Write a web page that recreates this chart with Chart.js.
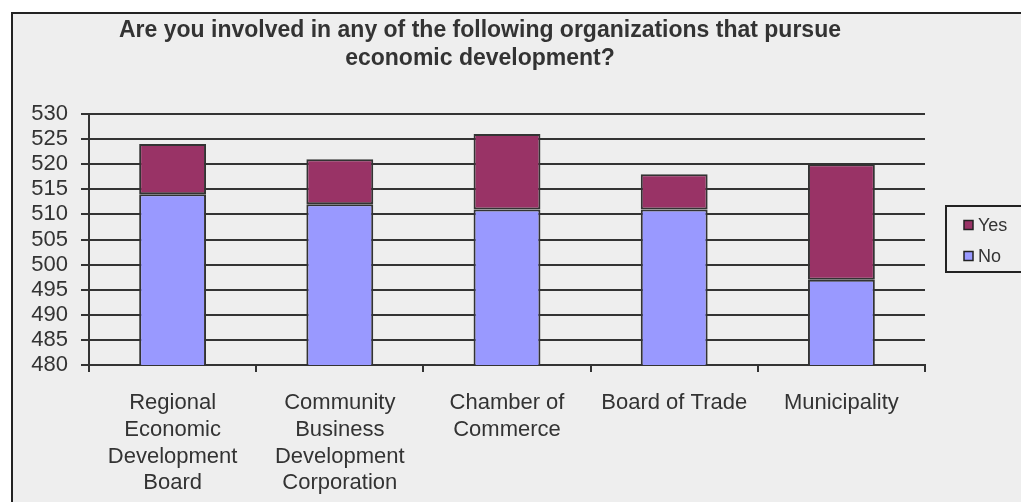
<!DOCTYPE html>
<html>
<head>
<meta charset="utf-8">
<script src="https://cdn.jsdelivr.net/npm/chart.js@4"></script>
<style>
  html, body { margin: 0; padding: 0; background: #ffffff; }
  #wrap { width: 1021px; height: 502px; }
</style>
</head>
<body>
<div id="wrap"><canvas id="orgChart" width="1021" height="502"></canvas></div>
<script>
// survey answers, stacked No + Yes
const categories = [
  ["Regional", "Economic", "Development", "Board"],
  ["Community", "Business", "Development", "Corporation"],
  ["Chamber of", "Commerce"],
  ["Board of Trade"],
  ["Municipality"]
];
const noValues = [514, 512, 511, 511, 497];
const yesValues = [10, 9, 15, 7, 23];
const titleLines = [
  "Are you involved in any of the following organizations that pursue",
  "economic development?"
];

const FONT = "'Liberation Sans', Arial, sans-serif";
const INK = "#333333";

// panel background + frame, title and the boxed legend
const panelPlugin = {
  id: "panel",
  beforeDraw(chart) {
    const ctx = chart.ctx;
    ctx.save();
    ctx.fillStyle = "#ffffff";
    ctx.fillRect(0, 0, chart.width, chart.height);
    ctx.fillStyle = "#eeeeee";
    ctx.fillRect(12, 13, chart.width, chart.height);
    ctx.strokeStyle = "#222222";
    ctx.lineWidth = 2;
    ctx.beginPath();
    ctx.moveTo(12, chart.height + 2);
    ctx.lineTo(12, 13);
    ctx.lineTo(chart.width + 2, 13);
    ctx.stroke();

    ctx.fillStyle = INK;
    ctx.font = "bold 23px " + FONT;
    ctx.textAlign = "center";
    ctx.textBaseline = "alphabetic";
    titleLines.forEach((line, i) => ctx.fillText(line, 480, 37 + i * 28));
    ctx.restore();
  },
  afterDraw(chart) {
    const ctx = chart.ctx;
    ctx.save();
    ctx.strokeStyle = "#222222";
    ctx.lineWidth = 2;
    ctx.strokeRect(946, 206, 100, 66);
    const items = chart.data.datasets.slice().reverse();
    ctx.font = "18px " + FONT;
    ctx.textAlign = "left";
    ctx.textBaseline = "middle";
    items.forEach((ds, i) => {
      const y = 225 + i * 31;
      ctx.fillStyle = ds.backgroundColor;
      ctx.fillRect(964, y - 4.5, 9, 9);
      ctx.lineWidth = 1.5;
      ctx.strokeStyle = "#222222";
      ctx.strokeRect(964, y - 4.5, 9, 9);
      ctx.fillStyle = INK;
      ctx.fillText(ds.label, 978, y + 1);
    });
    ctx.restore();
  }
};

new Chart(document.getElementById("orgChart"), {
  type: "bar",
  data: {
    labels: categories,
    datasets: [{
      label: "No",
      data: noValues,
      backgroundColor: "#9999ff",
      borderColor: INK,
      borderWidth: 2,
      borderSkipped: false
    }, {
      label: "Yes",
      data: yesValues,
      backgroundColor: "#993366",
      borderColor: INK,
      borderWidth: 2,
      borderSkipped: false
    }]
  },
  options: {
    responsive: false,
    animation: false,
    devicePixelRatio: 1,
    layout: { padding: { left: 12, top: 114, right: 96, bottom: 0 } },
    datasets: { bar: { categoryPercentage: 1, barPercentage: 0.4 } },
    plugins: {
      legend: { display: false },
      title: { display: false },
      tooltip: { enabled: false }
    },
    scales: {
      x: {
        stacked: true,
        afterFit: s => { s.height = 137; },
        grid: { offset: true, drawOnChartArea: false, tickLength: 7, color: INK, lineWidth: 2 },
        border: { color: INK, width: 2 },
        ticks: {
          color: INK,
          padding: 18,
          maxRotation: 0,
          autoSkip: false,
          font: { family: FONT, size: 22, lineHeight: 1.21 }
        }
      },
      y: {
        stacked: true,
        min: 480,
        max: 530,
        afterFit: s => { s.width = 77; },
        grid: { color: INK, lineWidth: 2, tickLength: 8 },
        border: { color: INK, width: 2 },
        ticks: {
          stepSize: 5,
          autoSkip: false,
          color: INK,
          padding: 13,
          font: { family: FONT, size: 22 }
        }
      }
    }
  },
  plugins: [panelPlugin]
});
</script>
</body>
</html>
